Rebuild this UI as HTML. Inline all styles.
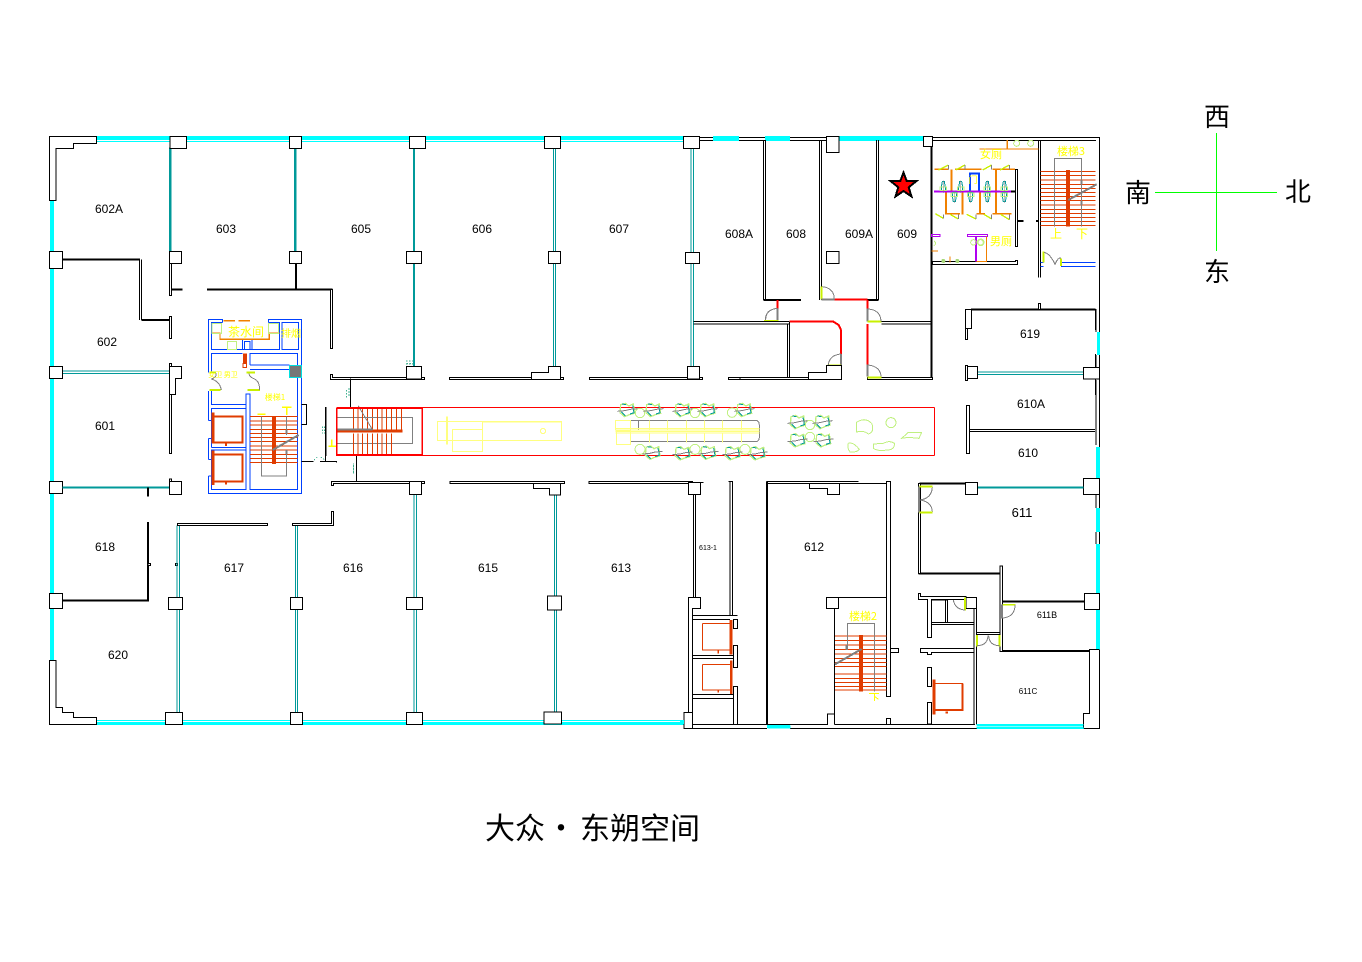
<!DOCTYPE html>
<html><head><meta charset="utf-8"><style>
html,body{margin:0;padding:0;background:#fff}
svg{display:block}
.b{stroke:#000;stroke-width:3;fill:none}
.t{stroke:#000;stroke-width:6;fill:none}
.f{stroke:#000;stroke-width:3;fill:#fff}
.c{stroke:#009999;stroke-width:6;fill:none}
.d{stroke:#009999;stroke-width:3;fill:none}
.o{stroke:#e03c00;stroke-width:3;fill:none}
.O{stroke:#e03c00;stroke-width:6;fill:none}
.A{fill:#e03c00;stroke:none}
.a{stroke:#f08000;stroke-width:4;fill:none}
.g{stroke:#808080;stroke-width:3;fill:none}
.G{stroke:#808080;stroke-width:6;fill:none}
.l{stroke:#c8f000;stroke-width:6;fill:none}
.m{stroke:#c0f080;stroke-width:3;fill:none}
.u{stroke:#0040ff;stroke-width:3;fill:none}
.r{stroke:#ff0000;stroke-width:6;fill:none}
.R{stroke:#ff0000;stroke-width:3;fill:none}
.p{stroke:#b000f0;stroke-width:6;fill:none}
.y{stroke:#ffff80;stroke-width:3;fill:none}
.Y{stroke:#ffff00;stroke-width:3;fill:none}
.s{stroke:#40b090;stroke-width:3;fill:none;stroke-dasharray:4 5}
text{font-family:"Liberation Sans","Noto Sans CJK SC",sans-serif;fill:#000;text-anchor:middle}
.n{font-size:12px}
.h{font-family:"Noto Sans CJK SC","Liberation Sans",sans-serif;fill:#ffff00;font-size:12px}
.k{font-family:"Noto Sans CJK SC","Liberation Sans",sans-serif;font-size:26px}
.z{font-family:"Noto Sans CJK SC","Liberation Sans",sans-serif;font-size:30px}
</style></head><body>
<svg xmlns="http://www.w3.org/2000/svg" width="1362" height="962" viewBox="0 0 1362 962" shape-rendering="crispEdges">
<defs>
<g id="ch"><path d="M-20,-16 L-6,-20 L4,-12 L18,-18 L22,10 L6,14 L-8,20 L-22,8 Z" fill="none" stroke="#c0f080" stroke-width="4"/><path d="M-16,-18 L-4,-16 M16,-14 L20,8 L8,12 M-6,18 L-18,6" fill="none" stroke="#009999" stroke-width="3"/><path d="M-30,4 L-8,2 L8,-2 L30,-4" fill="none" stroke="#808080" stroke-width="3"/></g>
<g id="wc"><path d="M-6,-14 L-3,-30 L3,-30 L6,-14 L6,-3 L-6,-3 Z" fill="none" stroke="#009999" stroke-width="3"/><rect x="-10" y="-14" width="20" height="10" fill="none" stroke="#c0f080" stroke-width="3"/><path d="M0,-34 V4" stroke="#808080" stroke-width="2" fill="none"/></g>
</defs>
<rect width="1362" height="962" fill="#fff"/>

<!-- glass base, global coordinates -->
<g fill="#00ffff">
<rect x="97" y="136" width="590" height="4"/><rect x="97" y="141" width="590" height="1"/>
<rect x="50" y="200" width="4" height="460"/>
<rect x="97" y="720" width="590" height="1"/><rect x="97" y="722" width="590" height="3"/>
</g>
<!-- top wall east -->
<g>
<path d="M699,137.5H1099.5V728.5H976 M699,140.5H1096" stroke="#000" stroke-width="1" fill="none"/>
<rect x="713" y="136" width="26" height="5" fill="#00ffff"/>
<rect x="765" y="136" width="25" height="5" fill="#00ffff"/>
<rect x="839" y="136" width="84" height="5" fill="#00ffff"/>
<rect x="1097" y="332" width="3" height="23" fill="#00ffff"/>
<rect x="1096" y="447" width="4" height="31" fill="#00ffff"/>
<rect x="1096" y="508" width="4" height="24" fill="#00ffff"/>
<rect x="1096" y="544" width="4" height="49" fill="#00ffff"/>
<rect x="1096" y="609" width="4" height="41" fill="#00ffff"/>
<path d="M1096,309V332M1096,355V367M1096,380V445M1096,495V508M1096,532V544" stroke="#000" stroke-width="1" fill="none"/>
<rect x="767" y="724" width="23" height="4" fill="#00ffff"/>
<rect x="977" y="724" width="107" height="2" fill="#00ffff"/><rect x="977" y="727" width="107" height="2" fill="#00ffff"/>
<path d="M684,728.5H767M790,728.5H977" stroke="#000" fill="none"/>
</g>

<!-- ZOOM 1 -->
<g transform="translate(40,125) scale(.33333)">
<path class="f" d="M28,34H170V55H100V70H48V226H28Z"/>
<rect class="c" x="390" y="70" width="1" height="310"/>
<rect class="c" x="765" y="70" width="1" height="310"/>
<path class="c" d="M1122,70V380M1122,415V725"/>
<path class="d" d="M68,738H388M68,745H388"/>
<path class="t" d="M68,404H300M304,585H388M396,494H428M501,494H878M768,415V494"/>
<path class="b" d="M298,404V585M304,404V585"/>
<rect class="f" x="388" y="415" width="7" height="97"/>
<rect class="f" x="388" y="574" width="7" height="66"/>
<rect class="f" x="871" y="494" width="7" height="176"/>
<rect class="f" x="388" y="715" width="7" height="12"/>
<path class="f" d="M388,724H424V760H406V808H388Z"/>
<rect class="f" x="388" y="808" width="7" height="177"/>
<rect class="f" x="390" y="34" width="50" height="36"/>
<rect class="f" x="748" y="34" width="37" height="36"/>
<rect class="f" x="1108" y="34" width="49" height="36"/>
<rect class="f" x="28" y="379" width="40" height="51"/>
<rect class="f" x="388" y="379" width="36" height="36"/>
<rect class="f" x="748" y="379" width="37" height="36"/>
<rect class="f" x="1099" y="379" width="46" height="36"/>
<rect class="f" x="28" y="724" width="40" height="36"/>
<path class="f" d="M871,748H878V757H1153V764H871Z"/>
<rect class="f" x="1099" y="724" width="46" height="38"/>
<path class="b" d="M931,764V848M856,848V1010"/>
<path class="s" d="M1098,708H1120M1100,716H1120M920,795V820M928,790V815"/>
</g>

<!-- ZOOM 2 -->
<g transform="translate(40,425) scale(.33333)">
<rect class="f" x="388" y="162" width="7" height="10"/>
<rect class="f" x="28" y="169" width="40" height="36"/>
<path class="c" d="M68,188H388"/>
<rect class="f" x="388" y="169" width="36" height="39"/>
<path class="t" d="M324,188V215M324,291V527M68,527H327"/>
<rect class="f" x="324" y="415" width="7" height="6"/>
<rect class="f" x="406" y="415" width="7" height="6"/>
<rect class="f" x="28" y="505" width="40" height="45"/>
<path class="d" d="M411,301V517M418,301V517M411,553V862M418,553V862M766,301V517M773,301V517M766,553V862M773,553V862M1122,208V517M1129,208V517M1122,553V862M1129,553V862"/>
<rect class="f" x="412" y="295" width="271" height="6"/>
<path class="f" d="M757,295H874V259H881V301H757Z"/>
<path class="f" d="M874,169H1153V176H881V181H874Z"/>
<path class="b" d="M949,90V169"/>
<rect class="f" x="1108" y="169" width="36" height="39"/>
<rect class="f" x="385" y="517" width="43" height="36"/>
<rect class="f" x="751" y="517" width="36" height="36"/>
<rect class="f" x="1099" y="517" width="48" height="36"/>
<rect class="f" x="376" y="862" width="52" height="36"/>
<rect class="f" x="751" y="862" width="36" height="36"/>
<rect class="f" x="1099" y="862" width="48" height="36"/>
<path class="f" d="M28,706H48V847H68V862H100V877H170V898H28Z"/>
<path class="b" d="M785,110H820M855,110H890V113"/>
<path class="s" d="M822,105L832,96M842,96L855,105M940,115V145"/>
</g>

<!-- ZOOM 3 -->
<g transform="translate(400,125) scale(.33333)">
<path class="c" d="M42,70V380M42,415V725"/>
<path class="d" d="M460,70V380M467,70V380M460,415V725M467,415V725M873,70V382M880,70V382M873,415V725M880,415V725"/>
<rect class="f" x="28" y="34" width="49" height="36"/>
<rect class="f" x="433" y="34" width="49" height="36"/>
<rect class="f" x="850" y="34" width="48" height="36"/>
<rect class="f" x="19" y="379" width="46" height="36"/>
<rect class="f" x="445" y="379" width="37" height="36"/>
<rect class="f" x="856" y="382" width="42" height="33"/>
<rect class="f" x="65" y="757" width="9" height="7"/>
<rect class="f" x="19" y="724" width="46" height="38"/>
<rect class="f" x="148" y="757" width="343" height="7"/>
<path class="f" d="M394,764V742H445V724H482V764Z"/>
<rect class="f" x="568" y="757" width="340" height="7"/>
<rect class="f" x="862" y="724" width="36" height="38"/>
<path class="b" d="M880,590H1167M880,597H1169M1162,597V757M1169,590V757"/>
<rect class="f" x="985" y="757" width="215" height="7"/>
<path class="r" d="M1133,525V550M1168,590H1200"/>
<path class="G" d="M1133,550V588"/>
<path class="l" d="M1092,588H1135"/>
<path class="g" d="M1097,585Q1097,553 1133,550"/>
<path class="s" d="M18,708H40M18,717H40"/>
</g>

<!-- ZOOM 4 -->
<g transform="translate(740,125) scale(.33333)">
<path class="b" d="M70,45V525M77,45V525M238,45V525M245,45V525M410,45V525M416,45V525"/>
<path class="t" d="M70,525H183M383,525H416"/>
<rect class="f" x="259" y="34" width="38" height="48"/>
<rect class="f" x="550" y="34" width="28" height="30"/>
<rect class="f" x="259" y="379" width="38" height="36"/>
<path class="t" d="M575,64V760"/>
<path class="r" d="M283,523H383"/>
<path class="l" d="M245,485V523"/><path class="G" d="M245,523H283"/>
<path class="g" d="M248,485Q283,490 283,523"/>
<path class="r" d="M383,525V550"/><path class="G" d="M383,550V590"/><path class="l" d="M383,590H425"/>
<path class="g" d="M385,552Q422,555 423,590"/>
<path class="b" d="M425,590H575M425,597H575"/>
<path class="r" d="M383,597V718"/><path class="G" d="M383,718V755"/><path class="l" d="M383,757H425"/>
<path class="g" d="M385,720Q422,725 423,755"/>
<path class="r" d="M148,590H280L296,600L303,615V687"/><path class="G" d="M303,687V722"/><path class="l" d="M263,722H303"/>
<path class="g" d="M265,720Q268,690 303,687"/>
<path d="M305,722V757" stroke="#ffff00" stroke-width="3"/>
<path class="r" d="M113,525V550"/><path class="G" d="M113,550V588"/><path class="l" d="M72,588H115"/>
<path class="g" d="M76,585Q76,553 113,550"/>
<path class="b" d="M0,590H143M0,597H143M143,597V757M149,590V757"/>
<rect class="f" x="0" y="757" width="305" height="7"/>
<path class="f" d="M205,764V742H260V722H305V764Z"/>
<rect class="f" x="383" y="757" width="195" height="7"/>
<path class="l" d="M383,757H425"/>
<!-- toilets -->
<path class="b" d="M895,45V458M902,45V458M1067,553V615M1067,687V727M1067,762V810"/>
<rect class="f" x="826" y="133" width="7" height="232"/>
<path class="f" d="M578,410H826V406H833V418H578Z"/>
<path class="t" d="M833,288H850M888,288H895M813,200H826"/>
<path class="a" d="M718,72H895M802,45V72"/>
<circle class="m" cx="830" cy="55" r="9" stroke-width="4"/><circle class="m" cx="872" cy="55" r="9"/>
<path class="a" d="M583,133H625M645,133H725M757,133H825" stroke-width="5"/>
<path class="a" d="M635,133V200M768,133V200M618,200V268M668,200V268M720,200V268M768,200V268" style="stroke-width:6"/>
<path class="a" d="M615,266H660M710,266H735M757,266H815" style="stroke-width:5"/>
<path class="u" style="stroke-width:6" d="M690,200V145H717V200"/>
<path class="p" d="M582,200H813"/>
<use href="#wc" x="610" y="200"/><use href="#wc" x="662" y="200"/><use href="#wc" x="742" y="200"/><use href="#wc" x="793" y="200"/>
<use href="#wc" transform="translate(643,200) scale(1,-1)"/><use href="#wc" transform="translate(692,200) scale(1,-1)"/><use href="#wc" transform="translate(742,200) scale(1,-1)"/><use href="#wc" transform="translate(793,200) scale(1,-1)"/>
<path class="l" style="stroke-width:4" d="M595,135L625,120M647,135L675,120M728,135L755,120M780,135L808,120M586,266L610,280M630,268L655,282M680,268L708,282M732,268L755,282M782,268L808,284"/>
<path class="g" d="M625,120V133M675,120V133M755,120V133M808,120V133M610,268V280M655,268V282M708,268V282M755,268V282M808,268V284"/>
<rect x="682" y="328" width="61" height="6" fill="none" stroke="#b000f0" stroke-width="3"/>
<rect x="575" y="328" width="25" height="6" fill="none" stroke="#b000f0" stroke-width="3"/>
<path class="p" d="M708,335V410"/>
<path class="a" d="M740,335V410H710" style="stroke-width:3"/>
<path class="a" d="M575,378H594M630,395V412"/>
<circle class="m" cx="700" cy="352" r="8"/><circle class="m" cx="722" cy="352" r="9" style="stroke-width:5"/>
<circle cx="610" cy="408" r="6" fill="#a8d878"/><circle cx="652" cy="408" r="6" fill="#a8d878"/>
<path class="m" d="M582,348Q592,355 582,362"/>
<!-- stair 3 -->
<path class="o" d="M902,139H1067M902,152H1067M902,165H1067M902,178H1067M902,190H1067M902,202H1067M902,214H1067M902,227H1067M902,240H1067M902,253H1067M902,266H1067M902,278H1067M902,290H1067M902,302H1067"/>
<rect class="A" x="978" y="135" width="12" height="170"/>
<path class="g" d="M943,305V100H1025V305"/><path class="G" d="M985,225L1070,178"/>
<path class="G" d="M1025,165V178M1025,228V240"/>
<!-- stair door -->
<path class="u" d="M902,412H910M902,425H910M963,412H1067M963,425H1067"/>
<path class="l" d="M910,380V412M963,400V423"/>
<path class="g" d="M912,382Q930,385 945,418Q955,395 963,400"/>
<!-- 619 -->
<path class="t" d="M693,553H1067"/>
<rect class="f" x="895" y="535" width="7" height="18"/>
<rect class="f" x="676" y="553" width="19" height="57"/>
<rect class="f" x="676" y="610" width="7" height="33"/>
<path class="d" d="M713,741H1030M713,748H1030"/>
<rect class="f" x="676" y="722" width="7" height="45"/>
<rect class="f" x="683" y="725" width="30" height="35"/>
<rect class="f" x="1030" y="727" width="48" height="35"/>
</g>

<!-- 610A/610 global -->
<rect x="966.5" y="405.5" width="3" height="48" fill="#fff" stroke="#000"/>
<path d="M969,429.5H1095M969,431.5H1095" stroke="#000" fill="none"/>

<!-- south corridor walls 615/613 -->
<g transform="translate(320,370) scale(.33333)">
<path class="d" d="M703,375V678M710,375V678M703,720V1026M710,720V1026"/>
<rect class="f" x="390" y="335" width="343" height="6"/>
<path class="f" d="M640,341V356H688V375H722V341Z"/>
<rect class="f" x="682" y="678" width="42" height="42"/>
<rect class="f" x="672" y="1026" width="52" height="36"/>
<rect class="f" x="807" y="335" width="348" height="6" style="display:none"/>
<rect class="f" x="807" y="335" width="310" height="6"/>
</g>

<!-- ZOOM 7 east block -->
<g transform="translate(680,470) scale(.33333)">
<rect class="f" x="1210" y="25" width="48" height="48"/>
<rect class="f" x="1213" y="370" width="45" height="48"/>
<rect x="262" y="766" width="70" height="9" fill="#00ffff"/>
<path class="t" d="M261,35V765"/>
<path class="b" d="M259,35H536M261,41H620"/>
<path class="f" d="M388,41V55H442V73H478V41Z"/>
<path class="b" d="M620,35H631V680H620ZM442,383H620M463,415V763M261,763H442V732H463M463,763H885"/>
<rect class="f" x="439" y="382" width="36" height="33"/>
<rect class="f" x="631" y="535" width="24" height="12"/>
<rect class="f" x="620" y="745" width="11" height="18"/>
<!-- stair 2 -->
<path class="o" d="M465,498H620M465,512H620M465,525H620M465,538H620M465,552H620M465,565H620M465,578H620M465,590H620M465,612H620M465,625H620M465,637H620M465,650H620M465,660H620"/>
<rect class="A" x="537" y="495" width="12" height="170"/>
<path class="g" d="M502,540V460H584V665"/>
<path class="G" d="M465,583L545,537M500,525V540"/>
<path class="Y" d="M567,670H597M583,670V693M585,680L595,688"/>
<!-- 613-1 block -->
<path class="b" d="M62,37H70M145,35H157V435M150,35V436M40,73V383M47,73V383"/>
<rect class="f" x="25" y="37" width="37" height="36"/>
<path class="f" d="M25,383H62V415H38V775H25Z"/>
<path class="b" d="M38,436H172M38,448H150M38,556H160M38,565H160M38,673H160M38,685H160M38,763H160M172,763H261"/>
<rect class="f" x="160" y="448" width="12" height="27"/>
<rect class="f" x="160" y="527" width="12" height="65"/>
<rect class="f" x="160" y="650" width="12" height="113"/>
<path class="o" d="M67,460H150M67,460V540H150M67,583H150M67,583V660H150"/>
<path class="O" d="M67,540H150M67,660H150" style="stroke-width:3"/>
<rect class="A" x="149" y="450" width="9" height="103"/>
<rect class="A" x="150" y="572" width="8" height="100"/>
<path class="O" d="M115,541V551M115,660V668" style="stroke-width:4"/>
<rect class="f" x="12" y="727" width="26" height="48"/>
<rect x="0" y="750" width="12" height="12" fill="#00ffff"/>
<path class="b" d="M12,775H38"/>
</g>

<!-- ZOOM 12 -->
<g transform="translate(900,470) scale(.33333)">
<path class="c" d="M232,53H550"/>
<rect class="f" x="196" y="37" width="36" height="36"/>
<path class="t" d="M58,40H196M55,311H300M307,395H553M307,543H568"/>
<rect class="f" x="55" y="40" width="7" height="271"/>
<path class="G" d="M57,50V128"/>
<path class="l" d="M58,50H98M58,127H98"/>
<path class="g" d="M60,90Q95,85 97,52M60,90Q95,95 97,125"/>
<rect class="f" x="300" y="288" width="7" height="257"/>
<path class="f" d="M55,370H62V380H198V388H94V502H82V388H55Z"/>
<rect class="f" x="136" y="390" width="7" height="68"/>
<path class="b" d="M94,390H136M94,458H222M94,463H222M222,415V763M230,415V763M230,487H300M230,493H300"/>
<rect class="f" x="198" y="382" width="32" height="33"/>
<path class="l" d="M195,382V422"/>
<path class="g" d="M160,390Q165,418 195,420"/>
<path class="l" d="M231,495V530M299,495V530"/>
<path class="g" d="M231,527Q262,527 264,497M299,527Q268,527 266,497"/>
<path class="l" style="stroke-width:4" d="M307,404H347"/>
<path class="G" d="M306,404V445"/>
<path class="g" d="M309,444Q345,440 345,405"/>
<path class="f" d="M61,535H222V547H95V553H82V547H61Z"/>
<rect class="f" x="82" y="592" width="12" height="58"/>
<rect class="f" x="82" y="697" width="12" height="65"/>
<path class="b" d="M0,763H222"/>
<rect class="A" x="97" y="628" width="9" height="105"/>
<path class="o" d="M106,640H187V720H106"/>
<path class="O" d="M187,640V720H106"/>
<rect class="A" x="136" y="725" width="8" height="6"/>
<path class="f" style="fill:none" d="M550,775V730H568V538H598"/>
<rect x="230" y="762" width="320" height="5" fill="#00ffff"/>
<rect x="230" y="769" width="320" height="6" fill="#00ffff"/>
</g>

<!-- ZOOM 8 core -->
<g transform="translate(200,310) scale(.33333)">
<path class="u" d="M68,37V28H25V187M25,243V332M25,385V448M25,498V550H304V28H205V37"/>
<path class="u" d="M68,37H34V118H238V37H205M246,37H296V118H246ZM127,118V88H156V118M133,118V94H150V118"/>
<path class="u" d="M34,187V130H127M150,165V130H293V538H150V252H138V538H34V420H138M34,412H138M34,412V295H138M34,243V283H138M150,165H268M150,178H268"/>
<path class="u" d="M25,332H34M25,385H34M25,448H34M25,498H34"/>
<rect x="268" y="166" width="36" height="37" fill="#777" stroke="#00e0e0" stroke-width="3"/>
<path class="a" style="stroke-width:5" d="M70,32H105M115,32H150"/>
<path class="a" d="M36,70H60V88H208V70H238"/>
<rect class="m" x="36" y="40" width="28" height="30"/>
<rect class="m" x="206" y="40" width="30" height="30"/>
<rect class="m" x="82" y="94" width="28" height="24"/>
<rect class="A" x="129" y="130" width="12" height="32"/><rect x="129" y="160" width="10" height="12" fill="#fff" stroke="#e03c00" stroke-width="3"/>
<path class="l" d="M28,187H48M28,240H62M140,187H165M142,240H180"/>
<path class="g" d="M48,190Q52,200 35,207Q60,215 64,240M148,190Q145,200 164,207Q180,215 178,240"/>
<rect class="A" x="34" y="307" width="10" height="93"/><rect class="A" x="34" y="422" width="10" height="103"/>
<path class="O" d="M44,320H128V398H44"/><path class="O" d="M44,433H128V514H44"/>
<path class="O" d="M78,398V408M78,514V524"/>
<path class="o" d="M150,320H293M150,333H293M150,345H293M150,358H293M150,370H293M150,382H293M150,394H293M150,408H293M150,420H293M150,433H293M150,445H293M150,458H293"/>
<rect class="A" x="216" y="320" width="12" height="142"/>
<path class="g" d="M184,320V498H260V422M260,375V320"/>
<path class="G" d="M218,420L296,375M260,360V372M260,420V432"/>
<path d="M172,313H196M246,292H274M260,292V315" fill="none" stroke="#ffff00" stroke-width="4"/>
<path class="b" d="M305,283H320V343H305M304,454H340"/>
</g>

<!-- ZOOM 5 corridor -->
<g transform="translate(320,370) scale(.33333)">
<path class="b" d="M18,112V258M15,112H20M15,257H20M0,275H50V278"/>
<path class="s" d="M80,60V85M86,55V80M8,170V190M14,170V190M100,285V310"/>
<path class="b" d="M92,25V112M109,254V335"/>
<path d="M35,208V229H50M25,229H50" fill="none" stroke="#ffff00" stroke-width="4"/>
<path class="g" d="M50,142H277V220H50M100,115V178M50,115H100"/>
<path class="O" style="stroke-width:3" d="M100,115V178M100,190V254M114,115V178M114,190V254M128,115V178M128,190V254M142,115V178M142,190V254M157,115V178M157,190V254M172,115V178M172,190V254M186,115V178M186,190V254M200,115V178M200,190V254M215,115V178M215,190V254M230,115V178M244,115V178"/>
<path class="O" style="stroke-width:9" d="M50,183H248"/>
<path class="G" d="M50,178H158"/>
<path class="g" d="M115,108L158,180M132,143H170"/>
<path class="R" d="M50,112H1843M50,256H1843"/>
<path class="r" style="stroke-width:5" d="M50,114V255H307V114M50,114H307"/>
<!-- furniture -->
<path class="y" d="M352,154H487V211H352ZM397,178H488V244H397ZM487,155H724V211H487Z"/>
<path class="y" style="stroke-width:5" d="M381,140V224M487,155H724"/>
<circle class="y" cx="669" cy="183" r="8"/>
</g>

<!-- ZOOM 6 -->
<g transform="translate(600,390) scale(.33333)">
<path class="R" d="M1003,52V196"/>
<path class="g" d="M92,91H465Q478,91 478,105V142Q478,155 465,155H92M115,91V122"/>
<rect class="y" x="46" y="91" width="46" height="29"/>
<rect class="y" x="49" y="122" width="43" height="42"/>
<path class="y" d="M46,116H478M46,120H478M46,124H478M46,129H478M148,92V120M148,129V157M202,92V120M202,129V157M259,92V120M259,129V157M313,92V120M313,129V157M367,92V120M367,129V157M424,92V120M424,129V157"/>
<g class="m">
<circle cx="120" cy="69" r="14"/><circle cx="285" cy="69" r="14"/><circle cx="396" cy="68" r="14"/>
<circle cx="120" cy="178" r="15"/><circle cx="285" cy="178" r="15"/><circle cx="435" cy="178" r="15"/>
<circle cx="630" cy="105" r="14"/><circle cx="630" cy="141" r="14"/>
<circle cx="873" cy="98" r="15"/>
<path d="M770,97Q795,80 815,100Q825,125 805,132Q790,120 770,126Z"/>
<path d="M745,160Q760,155 778,178Q770,188 750,186Q740,172 745,160Z"/>
<path d="M820,162L850,160Q870,150 883,160Q885,180 860,180Q835,185 820,175Z"/>
<path d="M905,145L925,127H965L957,145L925,142Z"/>
</g>
<use href="#ch" x="82" y="60"/><use href="#ch" x="160" y="60"/><use href="#ch" x="248" y="60"/><use href="#ch" x="323" y="60"/><use href="#ch" x="433" y="60"/>
<use href="#ch" x="158" y="188"/><use href="#ch" x="248" y="190"/><use href="#ch" x="325" y="188"/><use href="#ch" x="398" y="190"/><use href="#ch" x="473" y="190"/>
<use href="#ch" x="593" y="96"/><use href="#ch" x="668" y="96"/><use href="#ch" x="593" y="151"/><use href="#ch" x="670" y="151"/>
</g>

<!-- star -->
<path d="M903.5,172.5L906.7,181H916.5L908.7,187.3L911.5,196.5L903.5,191L895.5,196.5L898.3,187.3L890.5,181H900.3Z" fill="#ff0000" stroke="#000" stroke-width="2" stroke-linejoin="miter"/>

<!-- compass -->
<path d="M1216.5,133V251M1155,192.5H1277" stroke="#00ff00" stroke-width="1" fill="none"/>

<!-- room labels -->
<g class="n">
<text x="109" y="213">602A</text><text x="226" y="233">603</text><text x="361" y="233">605</text>
<text x="482" y="233">606</text><text x="619" y="233">607</text><text x="739" y="238">608A</text>
<text x="796" y="238">608</text><text x="859" y="238">609A</text><text x="907" y="238">609</text>
<text x="107" y="346">602</text><text x="105" y="430">601</text><text x="105" y="551">618</text>
<text x="234" y="572">617</text><text x="353" y="572">616</text><text x="488" y="572">615</text>
<text x="621" y="572">613</text><text x="118" y="659">620</text><text x="814" y="551">612</text>
<text x="1022" y="517" style="font-size:13px">611</text><text x="1030" y="338">619</text>
<text x="1031" y="408">610A</text><text x="1028" y="457">610</text>
<text x="1047" y="618" style="font-size:9px">611B</text>
<text x="1028" y="694" style="font-size:8px">611C</text>
<text x="708" y="550" style="font-size:7px">613-1</text>
</g>
<g class="h">
<text class="h" x="246" y="336" style="font-size:12px">茶水间</text>
<text class="h" x="291" y="337" style="font-size:10px">排烟</text>
<text class="h" x="275" y="400" style="font-size:8px">楼梯1</text>
<text class="h" x="223" y="377" style="font-size:7px">女卫 男卫</text>
<text class="h" x="1071" y="155" style="font-size:11px">楼梯3</text>
<text class="h" x="863" y="620" style="font-size:11px">楼梯2</text>
<text class="h" x="991" y="158" style="font-size:11px">女厕</text>
<text class="h" x="1001" y="245" style="font-size:11px">男厕</text>
<text class="h" x="1056" y="238" style="font-size:12px">上</text>
<text class="h" x="1082" y="238" style="font-size:12px">下</text>
<text class="h" x="973" y="183" style="font-size:9px">门</text>
</g>

<!-- compass text -->
<text class="k" x="1217" y="126">西</text>
<text class="k" x="1138" y="202">南</text>
<text class="k" x="1298" y="201">北</text>
<text class="k" x="1217" y="281">东</text>

<!-- title -->
<text class="z" x="515" y="839">大众</text>
<text class="z" x="561" y="839">·</text>
<text class="z" x="640" y="839">东朔空间</text>
</svg>
</body></html>
